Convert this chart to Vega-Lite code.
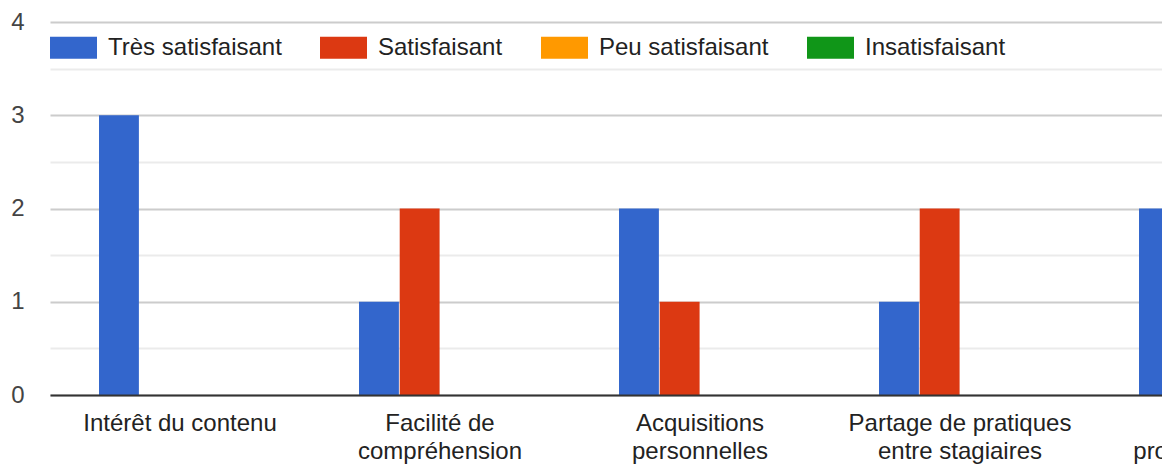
{
  "$schema": "https://vega.github.io/schema/vega-lite/v6.json",
  "width": 1112,
  "height": 373,
  "autosize": {"type": "none"},
  "padding": {"left": 50, "top": 22, "right": 0, "bottom": 73},
  "background": "white",
  "config": {"font": "Liberation Sans", "view": {"stroke": null}},
  "data": {
    "values": [
      {"critere": "Intérêt du contenu", "appreciation": "Très satisfaisant", "reponses": 3},
      {"critere": "Intérêt du contenu", "appreciation": "Satisfaisant", "reponses": 0},
      {"critere": "Intérêt du contenu", "appreciation": "Peu satisfaisant", "reponses": 0},
      {"critere": "Intérêt du contenu", "appreciation": "Insatisfaisant", "reponses": 0},
      {"critere": "Facilité de\ncompréhension", "appreciation": "Très satisfaisant", "reponses": 1},
      {"critere": "Facilité de\ncompréhension", "appreciation": "Satisfaisant", "reponses": 2},
      {"critere": "Facilité de\ncompréhension", "appreciation": "Peu satisfaisant", "reponses": 0},
      {"critere": "Facilité de\ncompréhension", "appreciation": "Insatisfaisant", "reponses": 0},
      {"critere": "Acquisitions\npersonnelles", "appreciation": "Très satisfaisant", "reponses": 2},
      {"critere": "Acquisitions\npersonnelles", "appreciation": "Satisfaisant", "reponses": 1},
      {"critere": "Acquisitions\npersonnelles", "appreciation": "Peu satisfaisant", "reponses": 0},
      {"critere": "Acquisitions\npersonnelles", "appreciation": "Insatisfaisant", "reponses": 0},
      {"critere": "Partage de pratiques\nentre stagiaires", "appreciation": "Très satisfaisant", "reponses": 1},
      {"critere": "Partage de pratiques\nentre stagiaires", "appreciation": "Satisfaisant", "reponses": 2},
      {"critere": "Partage de pratiques\nentre stagiaires", "appreciation": "Peu satisfaisant", "reponses": 0},
      {"critere": "Partage de pratiques\nentre stagiaires", "appreciation": "Insatisfaisant", "reponses": 0},
      {"critere": "Pratiques\nprofessionnelles", "appreciation": "Très satisfaisant", "reponses": 2},
      {"critere": "Pratiques\nprofessionnelles", "appreciation": "Satisfaisant", "reponses": 1},
      {"critere": "Pratiques\nprofessionnelles", "appreciation": "Peu satisfaisant", "reponses": 0},
      {"critere": "Pratiques\nprofessionnelles", "appreciation": "Insatisfaisant", "reponses": 0}
    ]
  },
  "mark": {"type": "bar", "clip": true},
  "encoding": {
    "x": {
      "field": "critere",
      "type": "nominal",
      "sort": null,
      "scale": {"range": [0, 1300], "paddingInner": 0.377, "paddingOuter": 0.1885},
      "axis": {
        "title": null,
        "labelAngle": 0,
        "ticks": false,
        "domainColor": "#333333",
        "domainWidth": 2,
        "labelFontSize": 24,
        "labelColor": "#222222",
        "labelPadding": 16,
        "labelBaseline": "top",
        "labelLineHeight": 28,
        "labelAlign": "center",
        "labelLimit": 0,
        "labelOverlap": false,
        "labelBound": false,
        "labelExpr": "split(datum.label, '\\n')",
        "zindex": 1
      }
    },
    "xOffset": {
      "field": "appreciation",
      "type": "nominal",
      "sort": ["Très satisfaisant", "Satisfaisant", "Peu satisfaisant", "Insatisfaisant"],
      "scale": {"domain": ["Très satisfaisant", "Satisfaisant", "Peu satisfaisant", "Insatisfaisant"], "paddingInner": 0.02, "paddingOuter": 0}
    },
    "y": {
      "field": "reponses",
      "type": "quantitative",
      "scale": {"domain": [0, 4], "nice": false},
      "axis": {
        "title": null,
        "values": [0, 0.5, 1, 1.5, 2, 2.5, 3, 3.5, 4],
        "labelExpr": "datum.value % 1 == 0 ? format(datum.value, 'd') : ''",
        "ticks": false,
        "domain": false,
        "labelFontSize": 24,
        "labelColor": "#444444",
        "labelPadding": 26,
        "gridWidth": 2,
        "gridColor": {"condition": {"test": "datum.value % 1 != 0", "value": "#ebebeb"}, "value": "#cccccc"}
      }
    },
    "color": {
      "field": "appreciation",
      "type": "nominal",
      "scale": {
        "domain": ["Très satisfaisant", "Satisfaisant", "Peu satisfaisant", "Insatisfaisant"],
        "range": ["#3366cc", "#dc3912", "#ff9900", "#109618"]
      },
      "legend": {
        "title": null,
        "orient": "none",
        "legendX": 0,
        "legendY": 2,
        "direction": "horizontal",
        "columns": 4,
        "columnPadding": 38,
        "padding": 0,
        "labelOffset": 11,
        "labelFontSize": 24,
        "labelColor": "#222222",
        "labelLimit": 0,
        "symbolType": "M-1,-0.468H1V0.468H-1Z",
        "symbolSize": 2209,
        "symbolStrokeWidth": 0,
        "symbolOpacity": 1
      }
    }
  }
}
